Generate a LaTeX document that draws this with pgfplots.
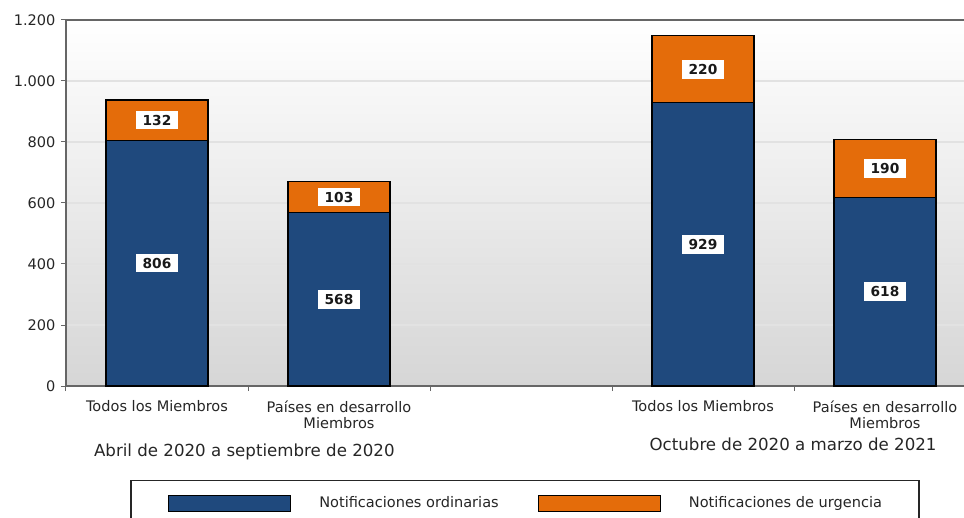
\documentclass[border=0pt]{standalone}
\usepackage{fontspec}
\setmainfont{DejaVu Sans}
\usepackage{pgfplots}
\pgfplotsset{compat=1.18}
\definecolor{barblue}{HTML}{1F497D}
\definecolor{barorange}{HTML}{E46C0A}
\definecolor{gridc}{HTML}{E2E2E2}
\definecolor{axc}{HTML}{666666}
\definecolor{bgbot}{HTML}{D6D6D6}
\definecolor{bgmid}{HTML}{F1F1F1}
\begin{document}
\begin{tikzpicture}[font=\fontsize{14.6}{16.5}\selectfont]
\begin{axis}[
  at={(0,0)}, anchor=south west,
  scale only axis, width=910bp, height=366bp,
  xmin=-0.5, xmax=4.5, ymin=0, ymax=1200,
  clip=false,
  axis background/.style={shade, top color=white, middle color=bgmid, bottom color=bgbot},
  axis line style={axc, line width=1.2bp},
  tick style={axc, line width=1bp},
  tick align=outside, tick pos=left,
  major tick length=5bp,
  xtick={-0.5,0.5,1.5,2.5,3.5},
  xticklabels={,,,,},
  extra x ticks={0,1,3,4},
  extra x tick labels={Todos los Miembros,Países en desarrollo\\Miembros,Todos los Miembros,Países en desarrollo\\Miembros},
  extra x tick style={major tick length=0pt, grid=none, tick label style={align=center, text=black!85, yshift=-11bp}},
  ytick={0,200,...,1200},
  ymajorgrids=true,
  major grid style={gridc, line width=1.2bp},
  /pgf/number format/assume math mode=true,
  /pgf/number format/1000 sep={.},
  yticklabel style={text=black!85, xshift=-2bp},
  legend columns=2,
  legend style={at={(axis description cs:0.5044,-0.2568)}, anchor=north,
    draw=black!85, line width=1.2bp, fill=white,
    inner xsep=37bp, inner ysep=14bp,
    nodes={inner sep=0pt, text=black!85},
    /tikz/every odd column/.append style={column sep=28bp},
    /tikz/every even column/.append style={column sep=39bp}},
  legend image code/.code={\draw[#1, draw=black, line width=1.2bp] (0bp,-8bp) rectangle (122bp,8bp);},
]
\addplot[ybar, bar width=102bp, bar shift=0pt, fill=barorange, draw=black, line width=1.2bp, forget plot]
  coordinates {(0,938) (1,671) (3,1149) (4,808)};
\addplot[ybar, bar width=102bp, bar shift=0pt, fill=barblue, draw=black, line width=1.2bp]
  coordinates {(0,806) (1,568) (3,929) (4,618)};
\addlegendentry{Notificaciones ordinarias}
\addlegendimage{fill=barorange}
\addlegendentry{Notificaciones de urgencia}
\addplot[draw=none, mark=none, forget plot, nodes near coords, point meta=explicit symbolic,
  every node near coord/.style={fill=white, text=black!90, font=\fontsize{13.8}{15}\selectfont\bfseries, anchor=center, inner xsep=6.5bp, inner ysep=4.2bp}]
  table[meta=lab] {
x y lab
0 403 806
0 872 132
1 284 568
1 619.5 103
3 464.5 929
3 1039 220
4 309 618
4 713 190
};
\node[anchor=base, text=black!85, font=\fontsize{16.7}{19}\selectfont] at (axis cs:0.48,0) [yshift=-70.5bp] {Abril de 2020 a septiembre de 2020};
\node[anchor=base, text=black!85, font=\fontsize{16.7}{19}\selectfont] at (axis cs:3.495,0) [yshift=-64.5bp] {Octubre de 2020 a marzo de 2021};
\end{axis}
\pgfresetboundingbox
\path[use as bounding box] (-66bp,-132bp) rectangle (898bp,386bp);
\end{tikzpicture}
\end{document}
